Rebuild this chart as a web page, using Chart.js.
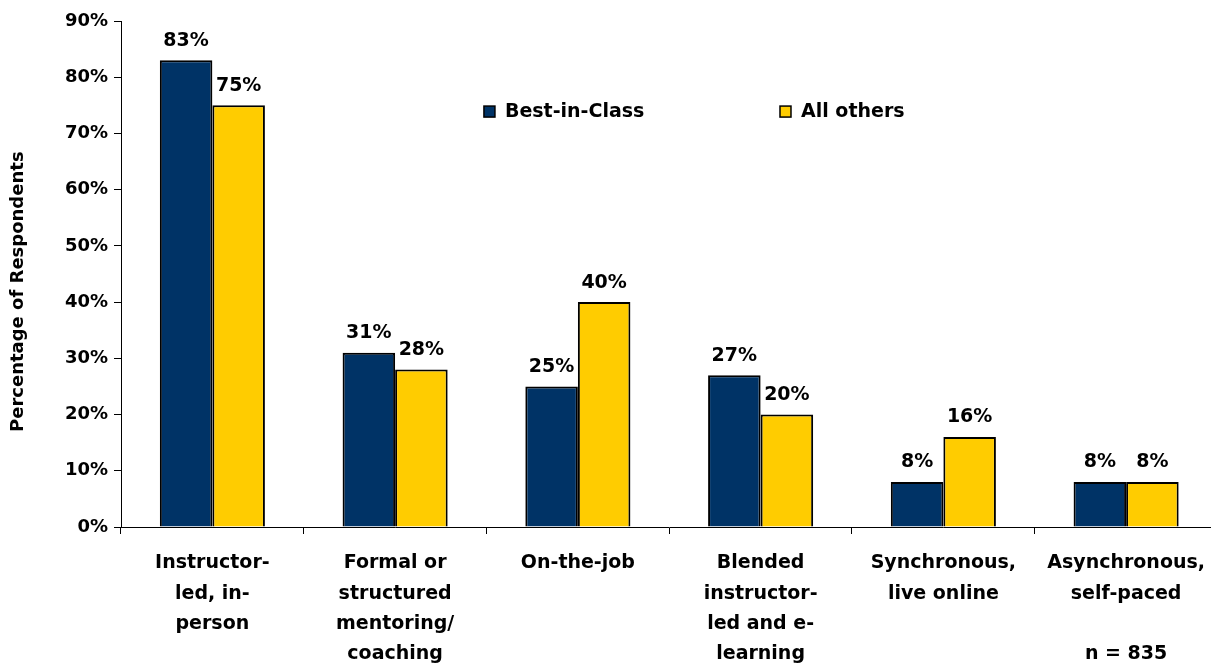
<!DOCTYPE html>
<html>
<head>
<meta charset="utf-8">
<title>Training delivery methods</title>
<script src="https://cdn.jsdelivr.net/npm/chart.js@4.4.1/dist/chart.umd.min.js"></script>
<style>
  html, body { margin: 0; padding: 0; background: #fff; overflow: hidden; }
  #wrap { width: 1219px; height: 664px; position: relative; }
</style>
</head>
<body>
<div id="wrap"><canvas id="myChart"></canvas></div>
<script>
// categories (multi-line labels) and series values, in percent
var categories = [
    ['Instructor-', 'led, in-', 'person'],
    ['Formal or', 'structured', 'mentoring/', 'coaching'],
    ['On-the-job'],
    ['Blended', 'instructor-', 'led and e-', 'learning'],
    ['Synchronous,', 'live online'],
    ['Asynchronous,', 'self-paced', '', 'n = 835']
];
var bestInClass = [83, 31, 25, 27, 8, 8];
var allOthers = [75, 28, 40, 20, 16, 8];
var yTicks = [0, 10, 20, 30, 40, 50, 60, 70, 80, 90];
var yTitle = 'Percentage of Respondents';

var FONT = '"DejaVu Sans", sans-serif';

// value labels above every bar
var valueLabels = {
    id: 'valueLabels',
    afterDatasetsDraw: function(chart) {
        var ctx = chart.ctx;
        ctx.save();
        ctx.font = 'bold 19px ' + FONT;
        ctx.fillStyle = '#000';
        ctx.textAlign = 'center';
        ctx.textBaseline = 'bottom';
        chart.data.datasets.forEach(function(ds, i) {
            chart.getDatasetMeta(i).data.forEach(function(bar, j) {
                ctx.fillText(ds.data[j] + '%', bar.x, bar.y - 10);
            });
        });
        ctx.restore();
    }
};

// legend drawn inside the plot area, plus the y axis title
var innerLegend = {
    id: 'innerLegend',
    afterDraw: function(chart) {
        var ctx = chart.ctx;
        var area = chart.chartArea;
        var spots = [0.331, 0.601];
        ctx.save();
        ctx.font = 'bold 19px ' + FONT;
        ctx.textBaseline = 'middle';
        chart.data.datasets.forEach(function(ds, i) {
            var x = area.left + spots[i] * (area.right - area.left);
            var y = area.top + 0.178 * (area.bottom - area.top);
            ctx.fillStyle = ds.backgroundColor;
            ctx.fillRect(x, y - 5, 11, 11);
            ctx.strokeStyle = '#000';
            ctx.lineWidth = 1.5;
            ctx.strokeRect(x, y - 5, 11, 11);
            ctx.fillStyle = '#000';
            ctx.textAlign = 'left';
            ctx.fillText(ds.label, x + 21, y + 1);
        });

        // rotated axis title, sitting a little below the axis middle like the original
        ctx.font = 'bold 18px ' + FONT;
        ctx.textAlign = 'center';
        ctx.translate(18, area.top + 0.535 * (area.bottom - area.top));
        ctx.rotate(-Math.PI / 2);
        ctx.fillText(yTitle, 0, 0);
        ctx.restore();
    }
};

function createBarChart() {
    var ctx = document.getElementById('myChart').getContext('2d');

    var myBarChart = new Chart(ctx, {
        type: 'bar',
        data: {
            labels: categories,
            datasets: [
                {
                    label: 'Best-in-Class',
                    data: bestInClass,
                    backgroundColor: '#003366',
                    borderColor: '#000',
                    borderWidth: 2,
                    borderSkipped: 'bottom',
                },
                {
                    label: 'All others',
                    data: allOthers,
                    backgroundColor: '#FFCC00',
                    borderColor: '#000',
                    borderWidth: 2,
                    borderSkipped: 'bottom',
                },
            ],
        },
        options: {
            responsive: true,
            maintainAspectRatio: false,
            animation: false,
            layout: { padding: { top: 21, right: 0, left: 0, bottom: 0 } },
            plugins: {
                legend: { display: false },
                tooltip: { enabled: false },
            },
            datasets: {
                bar: { categoryPercentage: 0.575, barPercentage: 1.0 },
            },
            scales: {
                x: {
                    grid: {
                        offset: true,
                        drawOnChartArea: false,
                        color: '#000',
                        tickLength: 7,
                    },
                    border: { color: '#000', width: 1 },
                    ticks: {
                        color: '#000',
                        font: { family: FONT, size: 19, weight: 'bold', lineHeight: 1.6 },
                        padding: 14,
                        maxRotation: 0,
                        autoSkip: false,
                    },
                    afterFit: function(scale) { scale.height = 137; },
                },
                y: {
                    min: 0,
                    max: 90,
                    afterBuildTicks: function(scale) {
                        scale.ticks = yTicks.map(function(v) { return { value: v }; });
                    },
                    grid: {
                        drawOnChartArea: false,
                        color: '#000',
                        tickLength: 7,
                    },
                    border: { color: '#000', width: 1 },
                    ticks: {
                        color: '#000',
                        font: { family: FONT, size: 18, weight: 'bold' },
                        padding: 6,
                        callback: function(v) { return v + '%'; },
                    },
                    afterFit: function(scale) { scale.width = 121; },
                },
            },
        },
        plugins: [valueLabels, innerLegend],
    });
}

createBarChart();
</script>
</body>
</html>
